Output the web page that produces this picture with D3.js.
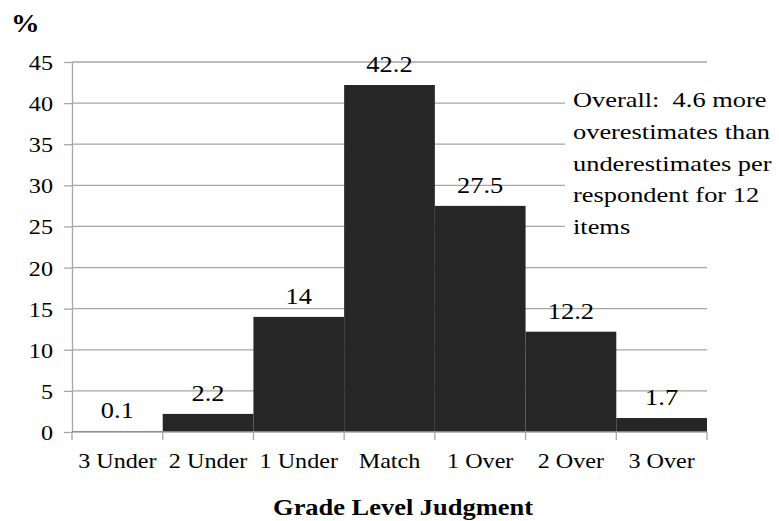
<!DOCTYPE html>
<html>
<head>
<meta charset="utf-8">
<script src="https://cdn.jsdelivr.net/npm/d3@7"></script>
<style>
  html, body { margin: 0; padding: 0; background: #fff; }
  svg text { font-family: "Liberation Serif", "Times New Roman", serif; fill: #000; white-space: pre; }
</style>
</head>
<body>
<svg id="chart" width="779" height="521"></svg>
<script>
const categories = ["3 Under", "2 Under", "1 Under", "Match", "1 Over", "2 Over", "3 Over"];
const values = [0.1, 2.2, 14, 42.2, 27.5, 12.2, 1.7];
const valueLabels = ["0.1", "2.2", "14", "42.2", "27.5", "12.2", "1.7"];
const yTicks = [0, 5, 10, 15, 20, 25, 30, 35, 40, 45];
const annotationLines = ["Overall:  4.6 more", "overestimates than", "underestimates per", "respondent for 12", "items"];
const xTitle = "Grade Level Judgment";
const yTitle = "%";

(function () {
const svg = d3.select("#chart");
const pl = 72, pr = 707, pt = 62, pb = 432;

const x = d3.scaleBand().domain(categories).range([pl, pr]).padding(0);
const y = d3.scaleLinear().domain([0, 45]).range([pb, pt]);

const gridColor = "#a6a6a6";

function stretchedText(g, tx, ty, str, anchor, size, sx, weight) {
  return g.append("text")
    .attr("transform", `translate(${tx},${ty}) scale(${sx},1)`)
    .attr("text-anchor", anchor)
    .attr("xml:space", "preserve")
    .style("font-size", size + "px")
    .style("font-weight", weight || "normal")
    .text(str);
}

// gridlines
svg.append("g").selectAll("line").data(yTicks.filter(d => d > 0)).join("line")
  .attr("x1", pl).attr("x2", pr)
  .attr("y1", d => y(d)).attr("y2", d => y(d))
  .attr("stroke", gridColor).attr("stroke-width", 1.3);

// y axis
const yAxis = d3.axisLeft(y).tickValues(yTicks).tickSize(8).tickSizeOuter(0).tickFormat("");
const yg = svg.append("g").attr("transform", `translate(${pl},0)`).call(yAxis);
yg.selectAll("path, line").attr("stroke", gridColor).attr("stroke-width", 1.3);
yTicks.forEach(t => stretchedText(svg, 53, y(t) + 8, String(t), "end", 21, 1.15));

// bars
svg.append("g").selectAll("rect").data(values).join("rect")
  .attr("x", (d, i) => x(categories[i]))
  .attr("width", x.bandwidth())
  .attr("y", d => y(d))
  .attr("height", d => y(0) - y(d))
  .attr("fill", "#262626");

// x axis
const xBound = d3.scaleLinear().domain([0, categories.length]).range([pl, pr]);
const bounds = d3.range(categories.length + 1);
const xg = svg.append("g");
xg.append("line").attr("x1", pl).attr("x2", pr).attr("y1", pb).attr("y2", pb)
  .attr("stroke", gridColor).attr("stroke-width", 1.3);
xg.selectAll("line.tk").data(bounds).join("line").attr("class", "tk")
  .attr("x1", d => xBound(d)).attr("x2", d => xBound(d))
  .attr("y1", pb).attr("y2", pb + 8)
  .attr("stroke", gridColor).attr("stroke-width", 1.3);
categories.forEach(c => stretchedText(svg, x(c) + x.bandwidth() / 2, 468, c, "middle", 21, 1.15));

// value labels
values.forEach((v, i) => stretchedText(svg, x(categories[i]) + x.bandwidth() / 2, y(v) - 13, valueLabels[i], "middle", 23, 1.15));

// annotation box
svg.append("rect").attr("x", 565).attr("y", 80).attr("width", 214).attr("height", 165).attr("fill", "#fff");
annotationLines.forEach((l, i) => stretchedText(svg, 573, 107 + i * 31.8, l, "start", 22, 1.2));

// titles
stretchedText(svg, 403, 515, xTitle, "middle", 23, 1.15, "bold");
stretchedText(svg, 11, 32, yTitle, "start", 26, 1.1, "bold");
})();
</script>
</body>
</html>
